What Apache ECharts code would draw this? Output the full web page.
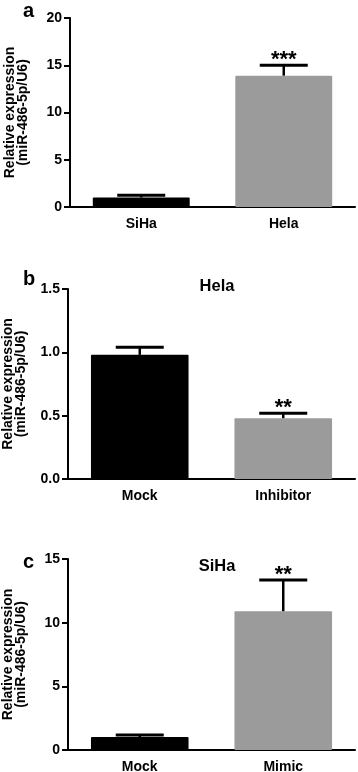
<!DOCTYPE html>
<html>
<head>
<meta charset="utf-8">
<script src="https://cdn.jsdelivr.net/npm/echarts@6/dist/echarts.min.js"></script>
<style>
  html, body { margin: 0; padding: 0; background: #fff; }
  #chart { width: 358px; height: 772px; }
</style>
</head>
<body>
<div id="chart"></div>
<script>
// panel a
const catsA = ['SiHa', 'Hela'];
const valsA = [1.0, 13.9];
const errsA = [0.25, 1.1];
const starsA = ['', '***'];
// panel b (Hela)
const catsB = ['Mock', 'Inhibitor'];
const valsB = [0.98, 0.48];
const errsB = [0.06, 0.04];
const starsB = ['', '**'];
// panel c (SiHa)
const catsC = ['Mock', 'Mimic'];
const valsC = [1.02, 10.9];
const errsC = [0.15, 2.45];
const starsC = ['', '**'];

const barColors = ['#000000', '#9b9b9b'];
const FONT = "'Liberation Sans', Arial, sans-serif";
const yName = 'Relative expression\n(miR-486-5p/U6)';

// error bar + significance stars, upper half only
function makeErrorBar(stars) {
  return function (params, api) {
    const x = api.value(0);
    const v = api.value(1);
    const e = api.value(2);
    const base = api.coord([x, v]);
    const top = api.coord([x, v + e]);
    const half = 24;
    return {
      type: 'group',
      children: [
        { type: 'line', shape: { x1: base[0], y1: base[1], x2: top[0], y2: top[1] }, style: { stroke: '#000', lineWidth: 2.5 } },
        { type: 'line', shape: { x1: top[0] - half, y1: top[1], x2: top[0] + half, y2: top[1] }, style: { stroke: '#000', lineWidth: 3 } },
        {
          type: 'text', x: top[0], y: top[1] + 6,
          style: { text: stars[params.dataIndex], fontSize: 22, fontWeight: 'bold', fontFamily: FONT, fill: '#000', align: 'center', verticalAlign: 'bottom' }
        }
      ]
    };
  };
}

function xAxisFor(cats, gi) {
  return {
    type: 'category', gridIndex: gi, data: cats,
    axisLine: { lineStyle: { color: '#000', width: 2 } },
    axisTick: { alignWithLabel: true, length: 5, lineStyle: { color: '#000', width: 2 } },
    axisLabel: { color: '#000', fontSize: 14, fontWeight: 'bold', fontFamily: FONT, margin: 10 }
  };
}

function yAxisFor(gi, max, interval, digits) {
  return {
    type: 'value', gridIndex: gi, min: 0, max: max, interval: interval,
    name: yName, nameLocation: 'middle', nameRotate: 90, nameGap: 40,
    nameTextStyle: { color: '#000', fontSize: 14, fontWeight: 'bold', fontFamily: FONT, lineHeight: 13 },
    axisLine: { show: true, lineStyle: { color: '#000', width: 2 } },
    axisTick: { show: true, length: 6, lineStyle: { color: '#000', width: 2 } },
    axisLabel: { color: '#000', fontSize: 14, fontWeight: 'bold', fontFamily: FONT, margin: 8,
      formatter: function (v) { return v.toFixed(digits); } },
    splitLine: { show: false }
  };
}

function barSeries(vals, gi) {
  return {
    type: 'bar', xAxisIndex: gi, yAxisIndex: gi, barWidth: '68%',
    data: vals.map(function (v, i) { return { value: v, itemStyle: { color: barColors[i] } }; }),
    itemStyle: { borderRadius: 1 },
    z: 2
  };
}

function errSeries(vals, errs, stars, gi) {
  return {
    type: 'custom', xAxisIndex: gi, yAxisIndex: gi,
    renderItem: makeErrorBar(stars),
    data: vals.map(function (v, i) { return [i, v, errs[i]]; }),
    z: 3
  };
}

const panelText = { color: '#000', fontSize: 20, fontWeight: 'bold', fontFamily: FONT };
const titleText = { color: '#000', fontSize: 16.5, fontWeight: 'bold', fontFamily: FONT };

const option = {
  animation: false,
  title: [
    { text: 'a', left: 18, top: -4, textStyle: panelText },
    { text: 'b', left: 18, top: 264, textStyle: panelText },
    { text: 'Hela', left: 212, top: 273, textAlign: 'center', textStyle: titleText },
    { text: 'c', left: 18, top: 547, textStyle: panelText },
    { text: 'SiHa', left: 212, top: 553, textAlign: 'center', textStyle: titleText }
  ],
  grid: [
    { left: 70, right: 3, top: 18, height: 189, outerBoundsMode: 'none' },
    { left: 68, right: 3, top: 289, height: 190, outerBoundsMode: 'none' },
    { left: 68, right: 3, top: 559, height: 191, outerBoundsMode: 'none' }
  ],
  xAxis: [xAxisFor(catsA, 0), xAxisFor(catsB, 1), xAxisFor(catsC, 2)],
  yAxis: [yAxisFor(0, 20, 5, 0), yAxisFor(1, 1.5, 0.5, 1), yAxisFor(2, 15, 5, 0)],
  series: [
    barSeries(valsA, 0), errSeries(valsA, errsA, starsA, 0),
    barSeries(valsB, 1), errSeries(valsB, errsB, starsB, 1),
    barSeries(valsC, 2), errSeries(valsC, errsC, starsC, 2)
  ]
};

const chart = echarts.init(document.getElementById('chart'));
chart.setOption(option);
</script>
</body>
</html>
